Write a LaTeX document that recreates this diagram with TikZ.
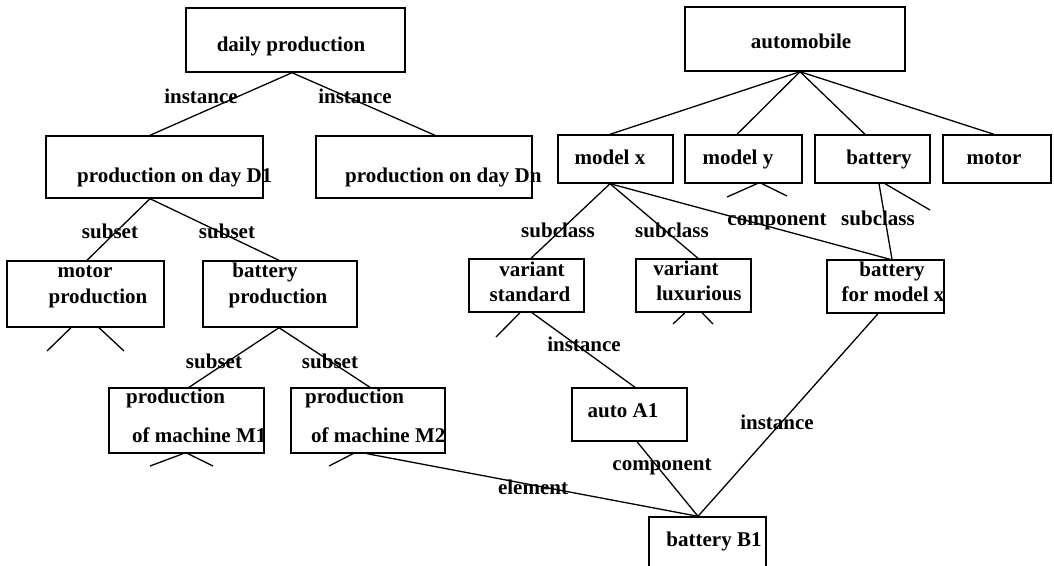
\documentclass[tikz,border=0pt]{standalone}
\usepackage{fontspec}
\setmainfont{Liberation Serif}
\begin{document}
\fontsize{21}{25}\selectfont\bfseries
\begin{tikzpicture}[x=1pt,y=-1pt,
  box/.style 2 args={draw, line width=1.4pt, minimum width=#1, minimum height=#2, inner sep=0pt},
  txt/.style={font=\fontsize{21}{25}\selectfont\bfseries, inner sep=0pt, anchor=mid},
  txtl/.style={txt, anchor=mid west},
  link/.style={line width=1.3pt}]
\useasboundingbox (0,0) rectangle (1054,565);
\clip (0,0) rectangle (1054,565);

% ---- production hierarchy ----
\node[box={219pt}{64pt}] (dp) at (295.5,40) {};
\node[box={217pt}{62pt}] (d1) at (154.5,167) {};
\node[box={216pt}{62pt}] (dn) at (424,167) {};
\node[box={157pt}{66pt}] (mp) at (85.5,294) {};
\node[box={154pt}{66pt}] (bp) at (280,294) {};
\node[box={155pt}{65pt}] (m1) at (186.5,420.5) {};
\node[box={154pt}{65pt}] (m2) at (368,420.5) {};

% ---- product hierarchy ----
\node[box={220pt}{64pt}] (au) at (795,39) {};
\node[box={115pt}{48pt}] (mx) at (615.5,159) {};
\node[box={117pt}{48pt}] (my) at (743.5,159) {};
\node[box={115pt}{48pt}] (bt) at (872.5,159) {};
\node[box={108pt}{48pt}] (mo) at (997,159) {};
\node[box={115pt}{53pt}] (vs) at (526.5,285.5) {};
\node[box={115pt}{53pt}] (vl) at (693.5,285.5) {};
\node[box={117pt}{53pt}] (bx) at (885.5,286.5) {};
\node[box={115pt}{53pt}] (a1) at (629.5,414.5) {};
\node[box={117pt}{68pt}] (b1) at (707.5,551) {};

% ---- box texts ----
\node[txt] (dpt) at (291,47) {daily production};
\node[txtl] (d1t) at (77,178) {production on day D1};
\node[txtl] (dnt) at (345,178) {production on day Dn};
\node[txt] (mpt1) at (85,273) {motor};
\node[txt] (mpt2) at (98,299) {production};
\node[txt] (bpt1) at (265,273) {battery};
\node[txt] (bpt2) at (278,299) {production};
\node[txtl] (m1t1) at (126,399) {production};
\node[txtl] (m1t2) at (132,438) {of machine M1};
\node[txtl] (m2t1) at (305,399) {production};
\node[txtl] (m2t2) at (311,438) {of machine M2};
\node[txt] (aut) at (801,44) {automobile};
\node[txt] (mxt) at (610,160) {model x};
\node[txt] (myt) at (738,160) {model y};
\node[txt] (btt) at (879,160) {battery};
\node[txt] (mot) at (994,160) {motor};
\node[txt] (vst1) at (532,272) {variant};
\node[txt] (vst2) at (530,297) {standard};
\node[txt] (vlt1) at (686,271) {variant};
\node[txt] (vlt2) at (699,296) {luxurious};
\node[txt] (bxt1) at (892,272) {battery};
\node[txt] (bxt2) at (893,297) {for model x};
\node[txt] (a1t) at (623,413) {auto A1};
\node[txt] (b1t) at (714,542) {battery B1};

% ---- connectors ----
\draw[link] ([xshift=-3.5pt]dp.south) -- ([xshift=-4.5pt]d1.north);
\draw[link] ([xshift=-3.5pt]dp.south) -- ([xshift=11pt]dn.north);
\draw[link] ([xshift=-4.5pt]d1.south) -- ([xshift=1.5pt]mp.north);
\draw[link] ([xshift=-4.5pt]d1.south) -- ([xshift=-1pt]bp.north);
\draw[link] ([xshift=-1pt]bp.south) -- ([xshift=2.5pt]m1.north);
\draw[link] ([xshift=-1pt]bp.south) -- ([xshift=2pt]m2.north);
\draw[link] ([xshift=-1pt]m2.south) -- ([xshift=-9.5pt]b1.north);

\draw[link] ([xshift=5pt]au.south) -- ([xshift=-5.5pt]mx.north);
\draw[link] ([xshift=5pt]au.south) -- ([xshift=-6.5pt]my.north);
\draw[link] ([xshift=5pt]au.south) -- ([xshift=-7.5pt]bt.north);
\draw[link] ([xshift=5pt]au.south) -- ([xshift=-3pt]mo.north);
\draw[link] ([xshift=-5.5pt]mx.south) -- ([xshift=4.5pt]vs.north);
\draw[link] ([xshift=-5.5pt]mx.south) -- ([xshift=4.5pt]vl.north);
\draw[link] ([xshift=-5.5pt]mx.south) -- ([xshift=4.5pt]bx.north);
\draw[link] ([xshift=6.5pt]bt.south) -- ([xshift=6.5pt]bx.north);
\draw[link] ([xshift=5.5pt]vs.south) -- ([xshift=5.5pt]a1.north);
\draw[link] ([xshift=7.5pt]a1.south) -- ([xshift=-9.5pt]b1.north);
\draw[link] ([xshift=-7.5pt]bx.south) -- ([xshift=-9.5pt]b1.north);

% ---- truncated branches ----
\coordinate (mpa) at (47,351);
\coordinate (mpb) at (124,351);
\coordinate (m1a) at (150,466);
\coordinate (m1b) at (213,466);
\coordinate (m2a) at (329,466);
\coordinate (mya) at (727,197);
\coordinate (myb) at (787,196);
\coordinate (bta) at (930,210);
\coordinate (vsa) at (496,337);
\coordinate (vla) at (673,324);
\coordinate (vlb) at (713,324);
\draw[link] ([xshift=-14.5pt]mp.south) -- (mpa);
\draw[link] ([xshift=13.5pt]mp.south) -- (mpb);
\draw[link] ([xshift=-3.5pt]m1.south) -- (m1a);
\draw[link] ([xshift=1.5pt]m1.south) -- (m1b);
\draw[link] ([xshift=-15pt]m2.south) -- (m2a);
\draw[link] ([xshift=13.5pt]my.south) -- (mya);
\draw[link] ([xshift=18.5pt]my.south) -- (myb);
\draw[link] ([xshift=12.5pt]bt.south) -- (bta);
\draw[link] ([xshift=-6.5pt]vs.south) -- (vsa);
\draw[link] ([xshift=-8.5pt]vl.south) -- (vla);
\draw[link] ([xshift=8.5pt]vl.south) -- (vlb);

% ---- relation labels ----
\node[txt] (l1) at (201,99) {instance};
\node[txt] (l2) at (355,99) {instance};
\node[txt] (l3) at (110,234) {subset};
\node[txt] (l4) at (227,234) {subset};
\node[txt] (l5) at (214,364) {subset};
\node[txt] (l6) at (330,364) {subset};
\node[txt] (l7) at (533,490) {element};
\node[txt] (l8) at (558,233) {subclass};
\node[txt] (l9) at (672,233) {subclass};
\node[txt] (l10) at (777,221) {component};
\node[txt] (l11) at (878,221) {subclass};
\node[txt] (l12) at (584,347) {instance};
\node[txt] (l13) at (777,425) {instance};
\node[txt] (l14) at (662,466) {component};
\end{tikzpicture}
\end{document}
